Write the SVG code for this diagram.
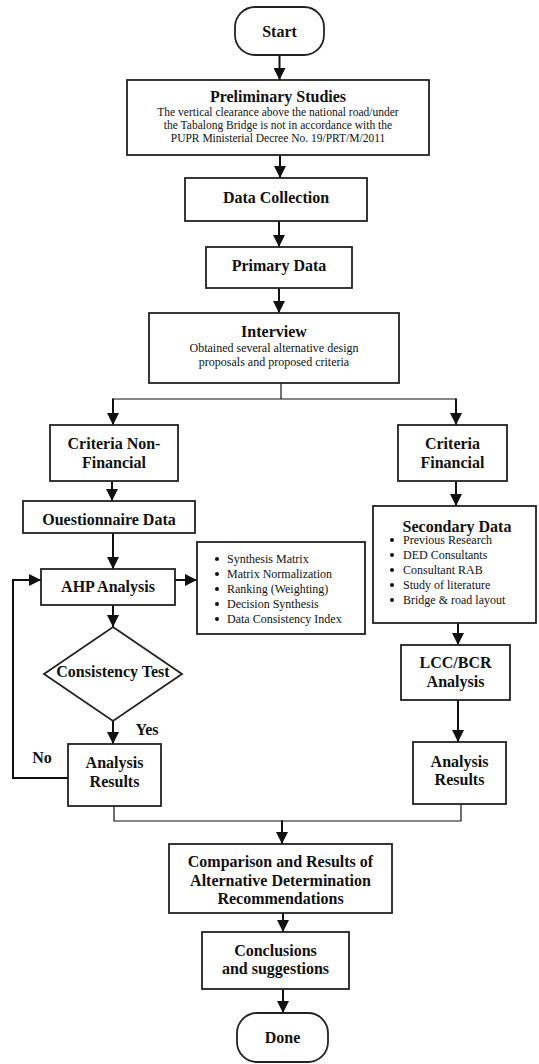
<svg xmlns="http://www.w3.org/2000/svg" width="539" height="1064" viewBox="0 0 539 1064">
<defs>
<style>
.box{fill:#fff;stroke:#222;stroke-width:1.8}
.t{font-family:"Liberation Serif","Times New Roman",serif;fill:#111}
.b{font-weight:bold;font-size:16px;text-anchor:middle}
.s{font-size:12px;text-anchor:middle}
.p{font-size:11.5px;text-anchor:middle}
.l{font-size:12px}
.c{fill:none;stroke:#111;stroke-width:2}
.thin{fill:none;stroke:#111;stroke-width:1.2}
.dot{fill:#111}
</style>
<marker id="ah" markerUnits="userSpaceOnUse" markerWidth="12" markerHeight="12" viewBox="0 0 12 12" refX="12" refY="6" orient="auto">
<path d="M0,0 L12,6 L0,12 Z" fill="#111"/>
</marker>
</defs>
<rect width="539" height="1064" fill="#fff"/>

<g id="connectors">
<line class="c" x1="279.5" y1="55" x2="279.5" y2="80" marker-end="url(#ah)"/>
<line class="c" x1="280" y1="155" x2="280" y2="178" marker-end="url(#ah)"/>
<line class="c" x1="279" y1="221" x2="279" y2="247" marker-end="url(#ah)"/>
<line class="c" x1="279" y1="288" x2="279" y2="313" marker-end="url(#ah)"/>
<polyline class="thin" points="281,383 281,399"/>
<polyline class="thin" points="113,399 456,399"/>
<line class="c" x1="113" y1="398.4" x2="113" y2="425" marker-end="url(#ah)"/>
<line class="c" x1="456" y1="398.4" x2="456" y2="425" marker-end="url(#ah)"/>
<line class="c" x1="112" y1="481" x2="112" y2="501" marker-end="url(#ah)"/>
<line class="c" x1="113" y1="533" x2="113" y2="569" marker-end="url(#ah)"/>
<line class="c" x1="175" y1="580" x2="197" y2="580" marker-end="url(#ah)"/>
<line class="c" x1="113" y1="605" x2="113" y2="627" marker-end="url(#ah)"/>
<line class="c" x1="113" y1="721" x2="113" y2="744" marker-end="url(#ah)"/>
<polyline class="c" points="68,778 13,778 13,580 41,580" marker-end="url(#ah)"/>
<line class="c" x1="456" y1="481" x2="456" y2="506" marker-end="url(#ah)"/>
<line class="c" x1="458" y1="623" x2="458" y2="645" marker-end="url(#ah)"/>
<line class="c" x1="458" y1="700" x2="458" y2="742" marker-end="url(#ah)"/>
<polyline class="thin" points="114,806 114,821 461,821 461,804"/>
<line class="c" x1="282" y1="820.4" x2="282" y2="844" marker-end="url(#ah)"/>
<line class="c" x1="283" y1="913" x2="283" y2="932" marker-end="url(#ah)"/>
<line class="c" x1="283" y1="989" x2="283" y2="1013" marker-end="url(#ah)"/>
<text class="t b" x="147" y="735">Yes</text>
<text class="t b" x="42" y="763">No</text>
</g>

<g id="start">
<rect class="box" x="235" y="7" width="89" height="48" rx="20"/>
<text class="t b" x="279.5" y="37">Start</text>
</g>

<g id="preliminary">
<rect class="box" x="127" y="80" width="302" height="75"/>
<text class="t b" x="278" y="102">Preliminary Studies</text>
<text class="t p" x="278" y="116">The vertical clearance above the national road/under</text>
<text class="t p" x="278" y="129">the Tabalong Bridge is not in accordance with the</text>
<text class="t p" x="278" y="142">PUPR Ministerial Decree No. 19/PRT/M/2011</text>
</g>

<g id="data-collection">
<rect class="box" x="185" y="178" width="182" height="43"/>
<text class="t b" x="276" y="203">Data Collection</text>
</g>

<g id="primary-data">
<rect class="box" x="206" y="247" width="146" height="41"/>
<text class="t b" x="279" y="271">Primary Data</text>
</g>

<g id="interview">
<rect class="box" x="149" y="313" width="250" height="70"/>
<text class="t b" x="274" y="337">Interview</text>
<text class="t s" x="274" y="352">Obtained several alternative design</text>
<text class="t s" x="274" y="366">proposals and proposed criteria</text>
</g>

<g id="criteria-non-financial">
<rect class="box" x="50" y="425" width="128" height="56"/>
<text class="t b" x="114" y="449">Criteria Non-</text>
<text class="t b" x="114" y="468">Financial</text>
</g>

<g id="criteria-financial">
<rect class="box" x="398" y="425" width="109" height="56"/>
<text class="t b" x="452.5" y="449">Criteria</text>
<text class="t b" x="452.5" y="468">Financial</text>
</g>

<g id="questionnaire">
<rect class="box" x="23" y="501" width="172" height="32"/>
<text class="t b" x="109" y="525">Ouestionnaire Data</text>
</g>

<g id="ahp">
<rect class="box" x="41" y="569" width="134" height="36"/>
<text class="t b" x="108" y="592">AHP Analysis</text>
</g>

<g id="ahp-steps">
<rect class="box" x="197" y="542" width="168" height="92"/>
<circle class="dot" cx="217" cy="559" r="2"/>
<circle class="dot" cx="217" cy="574" r="2"/>
<circle class="dot" cx="217" cy="589" r="2"/>
<circle class="dot" cx="217" cy="604" r="2"/>
<circle class="dot" cx="217" cy="619" r="2"/>
<text class="t l" x="227" y="563">Synthesis Matrix</text>
<text class="t l" x="227" y="578">Matrix Normalization</text>
<text class="t l" x="227" y="593">Ranking (Weighting)</text>
<text class="t l" x="227" y="608">Decision Synthesis</text>
<text class="t l" x="227" y="623">Data Consistency Index</text>
</g>

<g id="consistency-test">
<polygon class="box" points="113,627 182,674 113,721 44,674"/>
<text class="t b" x="113" y="677">Consistency Test</text>
</g>

<g id="analysis-results-left">
<rect class="box" x="68" y="744" width="93" height="62"/>
<text class="t b" x="114.5" y="768">Analysis</text>
<text class="t b" x="114.5" y="787">Results</text>
</g>

<g id="secondary-data">
<rect class="box" x="373" y="506" width="163" height="117"/>
<text class="t b" x="457" y="532">Secondary Data</text>
<circle class="dot" cx="392" cy="540" r="2"/>
<circle class="dot" cx="392" cy="555" r="2"/>
<circle class="dot" cx="392" cy="570" r="2"/>
<circle class="dot" cx="392" cy="585" r="2"/>
<circle class="dot" cx="392" cy="600" r="2"/>
<text class="t l" x="403" y="544">Previous Research</text>
<text class="t l" x="403" y="559">DED Consultants</text>
<text class="t l" x="403" y="574">Consultant RAB</text>
<text class="t l" x="403" y="589">Study of literature</text>
<text class="t l" x="403" y="604">Bridge &amp; road layout</text>
</g>

<g id="lcc-bcr">
<rect class="box" x="401" y="645" width="109" height="55"/>
<text class="t b" x="455.5" y="668">LCC/BCR</text>
<text class="t b" x="455.5" y="687">Analysis</text>
</g>

<g id="analysis-results-right">
<rect class="box" x="413" y="742" width="93" height="62"/>
<text class="t b" x="459.5" y="767">Analysis</text>
<text class="t b" x="459.5" y="785">Results</text>
</g>

<g id="comparison">
<rect class="box" x="169" y="844" width="223" height="69"/>
<text class="t b" x="280.5" y="867">Comparison and Results of</text>
<text class="t b" x="280.5" y="886">Alternative Determination</text>
<text class="t b" x="280.5" y="904">Recommendations</text>
</g>

<g id="conclusions">
<rect class="box" x="202" y="932" width="147" height="57"/>
<text class="t b" x="275.5" y="956">Conclusions</text>
<text class="t b" x="275.5" y="974">and suggestions</text>
</g>

<g id="done">
<rect class="box" x="237" y="1013" width="91" height="49" rx="20"/>
<text class="t b" x="282.5" y="1043">Done</text>
</g>
</svg>
